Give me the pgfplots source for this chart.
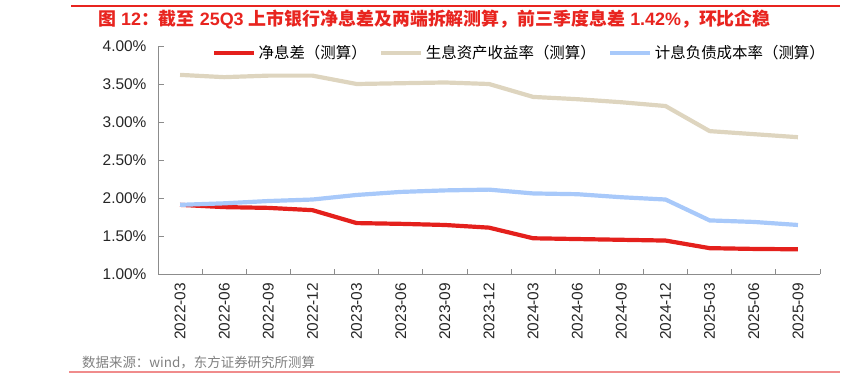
\documentclass[border=0pt]{standalone}
\usepackage{fontspec}
\usepackage{pgfplots}
\pgfplotsset{compat=1.18}
\setmainfont{Liberation Sans}
\newfontfamily\cjk{Noto Sans CJK SC}
\definecolor{nimred}{RGB}{228,32,28}
\definecolor{beige}{RGB}{222,213,191}
\definecolor{lblue}{RGB}{168,201,250}
\definecolor{titlered}{RGB}{232,36,31}
\definecolor{pinkline}{RGB}{240,140,140}
\begin{document}
\begin{tikzpicture}[x=1bp,y=1bp]
\path (0,0) rectangle (846,379);
\draw[titlered,line width=1.2bp] (71,373) -- (840,373);
\draw[pinkline,line width=1.8bp] (69,6.7) -- (840,6.7);
\node[anchor=west,text=titlered,inner sep=0] at (98,359.5) {\fontsize{18}{21}\selectfont\bfseries{\cjk 图} 12{\cjk ：截至} 25Q3 {\cjk 上市银行净息差及两端拆解测算，前三季度息差} 1.42\%{\cjk ，环比企稳}};
\node[anchor=west,text=black!50,inner sep=0] at (82,16.3) {\cjk\fontsize{13.5}{15}\selectfont 数据来源：wind，东方证券研究所测算};
\begin{axis}[
  at={(158bp,105bp)}, anchor=south west,
  scale only axis, width=662bp, height=228bp,
  xmin=-0.5, xmax=14.5, ymin=1, ymax=4,
  axis x line*=bottom, axis y line*=left,
  axis line style={draw=black!45, line width=0.8bp},
  tick align=inside,
  xtick={0,...,14},
  xticklabels={2022-03,2022-06,2022-09,2022-12,2023-03,2023-06,2023-09,2023-12,2024-03,2024-06,2024-09,2024-12,2025-03,2025-06,2025-09},
  major x tick style={draw=none},
  minor xtick={0.5,1.5,...,14.5},
  minor x tick style={draw=black!45, line width=0.8bp},
  minor tick length=5.5bp,
  ytick={1,1.5,2,2.5,3,3.5,4},
  major y tick style={draw=black!45, line width=0.8bp},
  major tick length=5.5bp,
  yticklabel={\pgfmathprintnumber[fixed,fixed zerofill,precision=2]{\tick}\%},
  /pgf/number format/assume math mode=true,
  yticklabel style={font=\fontsize{15.5}{17}\selectfont, text=black!85, xshift=-8bp},
  xticklabel style={font=\fontsize{15.5}{17}\selectfont, text=black!85, rotate=90, anchor=east, xshift=-5.5bp},
  legend style={at={(0.5455,0.969)}, anchor=center, draw=none, fill=none, legend columns=3,
    font=\cjk\fontsize{15.5}{18}\selectfont, inner sep=0bp,
    nodes={inner sep=1.5bp},
    /tikz/every odd column/.append style={column sep=1bp},
    /tikz/every even column/.append style={column sep=11bp}},
  legend image code/.code={\draw[#1] (0bp,0bp) -- (40bp,0bp);},
  clip=false,
]
\addplot[nimred, line width=4.2bp] coordinates {
(0,1.91) (1,1.88) (2,1.87) (3,1.84) (4,1.67) (5,1.66) (6,1.645) (7,1.61) (8,1.47) (9,1.46) (10,1.45) (11,1.44) (12,1.34) (13,1.33) (14,1.325)};
\addlegendentry{净息差（测算）}
\addplot[beige, line width=4.2bp] coordinates {
(0,3.62) (1,3.59) (2,3.61) (3,3.61) (4,3.50) (5,3.51) (6,3.52) (7,3.50) (8,3.33) (9,3.30) (10,3.26) (11,3.21) (12,2.88) (13,2.84) (14,2.80)};
\addlegendentry{生息资产收益率（测算）}
\addplot[lblue, line width=4.2bp] coordinates {
(0,1.91) (1,1.93) (2,1.96) (3,1.98) (4,2.04) (5,2.08) (6,2.10) (7,2.11) (8,2.06) (9,2.05) (10,2.01) (11,1.98) (12,1.705) (13,1.685) (14,1.645)};
\addlegendentry{计息负债成本率（测算）}
\end{axis}
\end{tikzpicture}
\end{document}
